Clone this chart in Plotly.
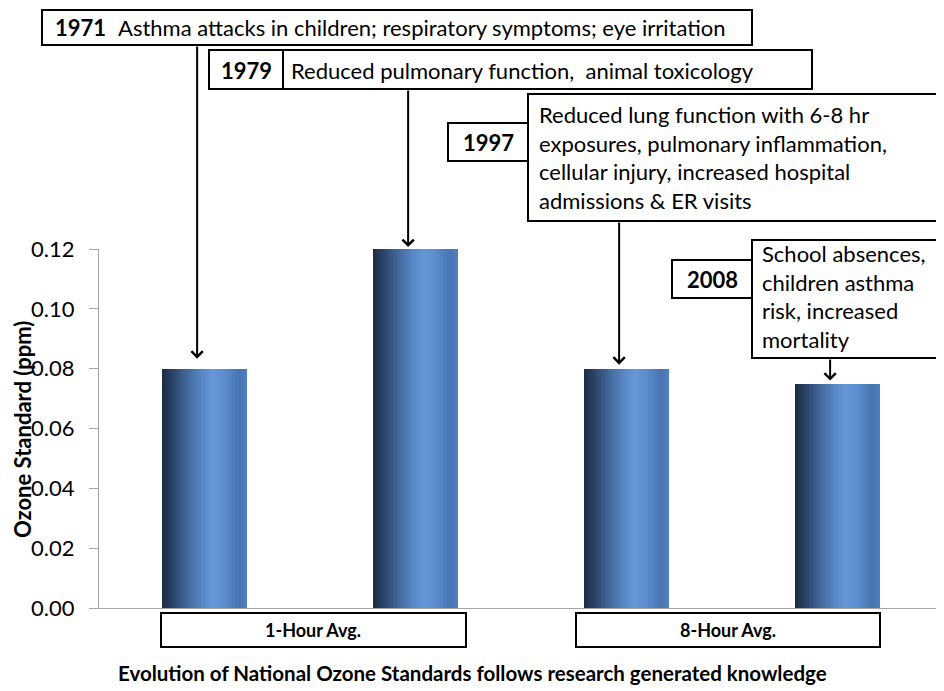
import plotly.graph_objects as go

# ---------------- data ----------------
bar_labels = ["1971", "1979", "1997", "2008"]
values = [0.08, 0.12, 0.08, 0.075]
groups = ["1-Hour Avg.", "8-Hour Avg."]
y_ticks = [0.00, 0.02, 0.04, 0.06, 0.08, 0.10, 0.12]
y_ticktext = ["0.00", "0.02", "0.04", "0.06", "0.08", "0.10", "0.12"]
effects = [
    "Asthma attacks in children; respiratory symptoms; eye irritation",
    "Reduced pulmonary function,  animal toxicology",
    "Reduced lung function with 6-8 hr<br>exposures, pulmonary inflammation,<br>cellular injury, increased hospital<br>admissions &amp; ER visits",
    "School absences,<br>children asthma<br>risk, increased<br>mortality",
]
title = "Evolution of National Ozone Standards follows research generated knowledge"
y_title = "Ozone Standard (ppm)"

# ---------------- layout geometry (window pixels) ----------------
W, H = 944, 691
OFF = 8  # default page body margin
L, R, T, B = 99, 943, 249, 608
YMAX = 0.12
FONT = "Lato"
FS = 22


def px(x):
    return (x - L) / (R - L)


def py(y):
    return (B - y) / (B - T)


def val_to_px(v):
    return B - v / YMAX * (B - T)


# gradient for cylinder-like bars
stops = [
    (0.00, (27, 42, 66)),
    (0.12, (42, 66, 102)),
    (0.30, (66, 104, 156)),
    (0.50, (92, 140, 203)),
    (0.60, (102, 152, 216)),
    (0.75, (90, 138, 203)),
    (0.90, (72, 117, 178)),
    (1.00, (80, 128, 190)),
]


def grad(t):
    for (t0, c0), (t1, c1) in zip(stops[:-1], stops[1:]):
        if t0 <= t <= t1:
            f = (t - t0) / (t1 - t0) if t1 > t0 else 0
            c = [round(a + (b - a) * f) for a, b in zip(c0, c1)]
            return "rgb(%d,%d,%d)" % tuple(c)
    return "rgb(%d,%d,%d)" % stops[-1][1]


fig = go.Figure()
N = 28
BW = 0.4
sw = BW / N
xs = list(range(len(values)))
for i in range(N):
    fig.add_trace(go.Bar(
        x=xs, y=values,
        width=[sw * 1.15] * len(xs),
        offset=-BW / 2 + i * sw,
        marker=dict(color=grad((i + 0.5) / N), line=dict(width=0)),
        showlegend=False, hoverinfo="skip",
    ))

shapes = []
annotations = []


def box(x0, y0, x1, y1):
    shapes.append(dict(type="rect", xref="paper", yref="paper",
                       x0=px(x0), x1=px(x1), y0=py(y1), y1=py(y0),
                       line=dict(color="black", width=2), fillcolor="white",
                       layer="above"))


def text(x, y, s, size=FS, bold=False, xanchor="left", align="left"):
    annotations.append(dict(xref="paper", yref="paper", x=px(x), y=py(y),
                            text=("<b>%s</b>" % s) if bold else s,
                            showarrow=False, xanchor=xanchor, yanchor="middle",
                            align=align,
                            font=dict(family=FONT, size=size, color="black")))


# 1971 box
box(42, 10, 752, 45)
text(53, 27, bar_labels[0], bold=True)
text(116, 27, effects[0])
# 1979 box
box(209, 50, 812, 89)
box(209, 50, 283, 89)
text(246, 70, bar_labels[1], bold=True, xanchor="center")
text(289, 70, effects[1])
# 1997 boxes
box(528, 94, 941, 221)
box(448, 123, 528, 161)
text(488, 142, bar_labels[2], bold=True, xanchor="center")
text(537, 157, effects[2])
# 2008 boxes
box(752, 240, 941, 358)
box(672, 260, 752, 298)
text(712, 279, bar_labels[3], bold=True, xanchor="center")
text(760, 296, effects[3])

# arrows from boxes to bars
tails = [45, 89, 221, 358]
standoffs = [10, 2, 4, 3]
for i, v in enumerate(values):
    annotations.append(dict(
        xref="x", yref="y", x=i - 0.035, y=v, ax=0,
        ay=tails[i] - val_to_px(v), text="", showarrow=True,
        arrowhead=4, arrowsize=1.1, arrowwidth=2, arrowcolor="black",
        standoff=standoffs[i],
    ))

# group labels under the axis
box(161, 613, 466, 647)
text(313, 630, groups[0], size=18, bold=True, xanchor="center")
box(576, 613, 880, 647)
text(728, 630, groups[1], size=18, bold=True, xanchor="center")

# title and y title
text(472, 673, title, size=20.5, bold=True, xanchor="center")
annotations.append(dict(xref="paper", yref="paper", x=px(22), y=py(430),
                        text="<b>%s</b>" % y_title, textangle=-90,
                        showarrow=False, xanchor="center", yanchor="middle",
                        font=dict(family=FONT, size=22, color="black")))

fig.update_layout(
    width=W - OFF, height=H - OFF,
    margin=dict(l=L - OFF, r=W - R, t=T - OFF, b=H - B, pad=0),
    paper_bgcolor="white", plot_bgcolor="white",
    barmode="overlay", bargap=0,
    shapes=shapes, annotations=annotations,
    showlegend=False,
    xaxis=dict(range=[-0.5, len(values) - 0.5], showticklabels=False,
               showgrid=False, zeroline=False, showline=True,
               linecolor="#a6a6a6", linewidth=1, ticks=""),
    yaxis=dict(range=[0, YMAX], tickvals=y_ticks, ticktext=y_ticktext,
               showgrid=False, zeroline=False, showline=True,
               linecolor="#a6a6a6", linewidth=1, ticks="outside",
               ticklen=9, tickcolor="#a6a6a6", ticklabelstandoff=10,
               tickfont=dict(family=FONT, size=FS, color="black")),
)

fig.write_html("out.html")
